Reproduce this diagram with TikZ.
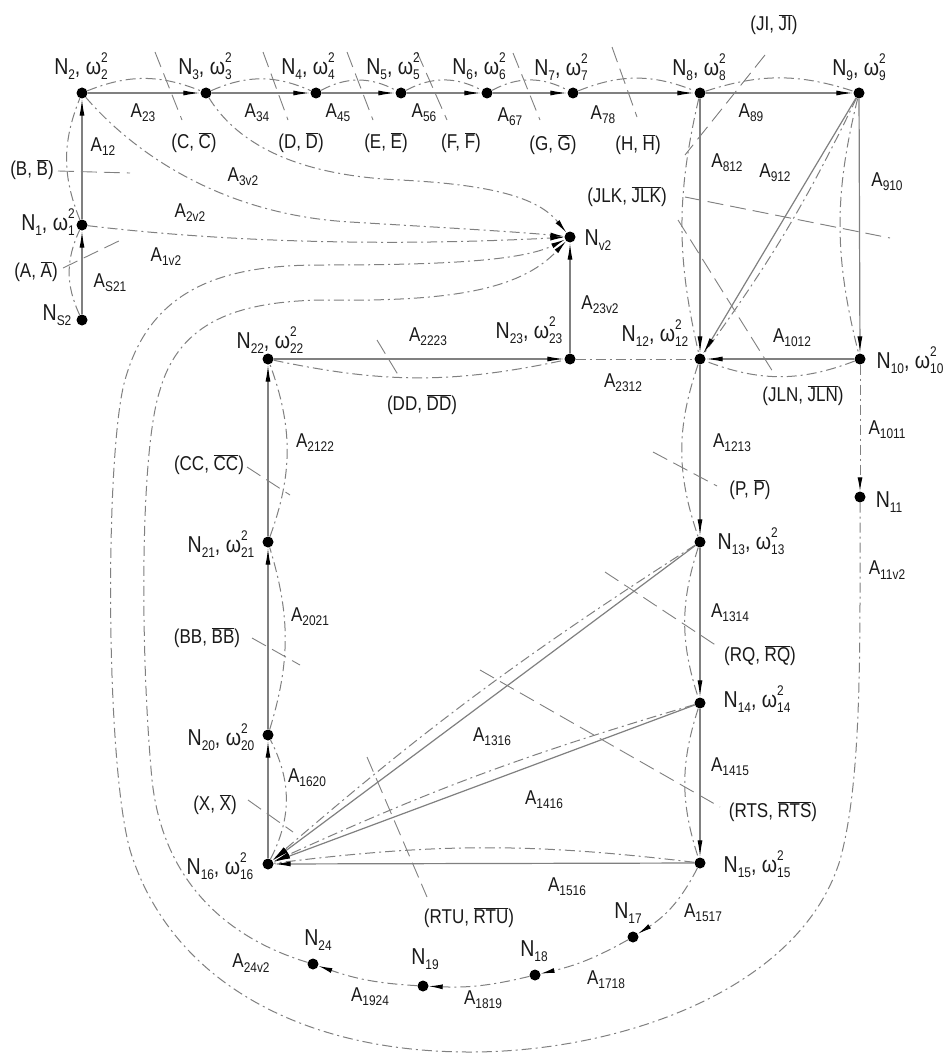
\documentclass[tikz,border=0pt]{standalone}
\usepackage{fontspec}
\setmainfont{Liberation Sans}[FakeStretch=0.85]
\usetikzlibrary{arrows.meta}
\definecolor{ln}{HTML}{808080}
\definecolor{tx}{HTML}{1a1a1a}
\newcommand\sbx[1]{\raisebox{-0.4ex}{\fontsize{14}{14}\selectfont #1}}
\newcommand\om[1]{ω\makebox[0pt][l]{\raisebox{0.95ex}{\fontsize{14}{14}\selectfont 2}}\sbx{#1}}
\newcommand\nw[2]{N\sbx{#1}, \om{#2}}
\newcommand\ob[1]{\ensuremath{\overline{\hbox{#1}}}}
\tikzset{
 dot/.style={circle,fill=black,inner sep=0pt,minimum size=11pt},
 sol/.style={draw=ln,line width=1.2pt},
 arr/.style={-{Latex[length=17pt,width=5pt,black]}},
 sarr/.style={-{Latex[length=14pt,width=5pt,black]}},
 dd/.style={draw=ln,line width=1pt,dash pattern=on 10pt off 4pt on 2pt off 4pt},
 cut/.style={draw=ln,line width=0.9pt,dash pattern=on 16pt off 7pt},
 lab/.style={text=tx,inner sep=0pt,font=\fontsize{20}{24}\selectfont},
 nlab/.style={text=tx,inner sep=0pt,font=\fontsize{23}{26}\selectfont},
}
\begin{document}
\begin{tikzpicture}[x=1pt,y=-1pt]
\useasboundingbox[fill=white] (0,0) rectangle (945,1054);
% nodes
\node[dot] (ns2) at (82,320) {};
\node[dot] (n1) at (82,225) {};
\node[dot] (n2) at (82,93) {};
\node[dot] (n3) at (206,93) {};
\node[dot] (n4) at (316,93) {};
\node[dot] (n5) at (401,93) {};
\node[dot] (n6) at (487,93) {};
\node[dot] (n7) at (573,93) {};
\node[dot] (n8) at (700,93) {};
\node[dot] (n9) at (859,93) {};
\node[dot] (nv2) at (570,237) {};
\node[dot] (n23) at (570,359) {};
\node[dot] (n22) at (268,359) {};
\node[dot] (n12) at (700,359) {};
\node[dot] (n10) at (860,359) {};
\node[dot] (n11) at (860,497) {};
\node[dot] (n21) at (268,542) {};
\node[dot] (n20) at (268,735) {};
\node[dot] (n16) at (268,864) {};
\node[dot] (n13) at (700,542) {};
\node[dot] (n14) at (700,703) {};
\node[dot] (n15) at (700,863) {};
\node[dot] (n17) at (633,937) {};
\node[dot] (n18) at (535,975) {};
\node[dot] (n19) at (423,986) {};
\node[dot] (n24) at (313,964) {};
% cut lines
\draw[cut] (63,268) -- (125,238);
\draw[cut] (58,171) -- (130,173);
\draw[cut] (155,52) -- (182,120);
\draw[cut] (263,52) -- (288,120);
\draw[cut] (347,52) -- (373,120);
\draw[cut] (417,52) -- (447,120);
\draw[cut] (513,53) -- (540,120);
\draw[cut] (612,47) -- (637,117);
\draw[cut] (765,55) -- (685,155);
\draw[cut] (685,197) -- (890,238);
\draw[cut] (678,220) -- (773,372);
\draw[cut] (653,452) -- (717,486);
\draw[cut] (605,572) -- (720,648);
\draw[cut] (480,670) -- (720,807);
\draw[cut] (367,757) -- (427,897);
\draw[cut] (248,800) -- (293,832);
\draw[cut] (252,638) -- (300,665);
\draw[cut] (247,467) -- (290,495);
\draw[cut] (377,340) -- (400,378);
% dash-dot arcs
\draw[dd] (ns2) to[bend left=25] (n1);
\draw[dd] (n1) to[bend left=22] (n2);
\draw[dd] (n2) to[bend left=22] (n3);
\draw[dd] (n3) to[bend left=24] (n4);
\draw[dd] (n4) to[bend left=28] (n5);
\draw[dd] (n5) to[bend left=28] (n6);
\draw[dd] (n6) to[bend left=28] (n7);
\draw[dd] (n7) to[bend left=22] (n8);
\draw[dd] (n8) to[bend left=18] (n9);
\draw[dd] (n9) to[bend right=14] (n10);
\draw[dd] (n8) to[bend right=13] (n12);
\draw[dd] (n9) to[bend left=5] (n12);
\draw[dd] (n10) to[bend left=21] (n12);
\draw[dd] (n12) to[bend right=19] (n13);
\draw[dd] (n13) to[bend right=18] (n14);
\draw[dd] (n14) to[bend right=18] (n15);
\draw[dd] (n22) to[bend right=12] (n23);
\draw[dd] (n21) to[bend right=20] (n22);
\draw[dd] (n20) to[bend right=17] (n21);
\draw[dd] (n16) to[bend right=27] (n20);
\draw[dd] (n15) to[bend right=7] (n16);
\draw[dd,arr] (n13) to[bend right=4] (n16);
\draw[dd,arr] (n14) to[bend right=4] (n16);
\draw[dd] (n23) -- (n12);
% solid edges
\draw[sol,arr] (ns2) -- (n1);
\draw[sol,arr] (n1) -- (n2);
\draw[sol,arr] (n2) -- (n3);
\draw[sol,arr] (n3) -- (n4);
\draw[sol,arr] (n4) -- (n5);
\draw[sol,arr] (n5) -- (n6);
\draw[sol,arr] (n6) -- (n7);
\draw[sol,arr] (n7) -- (n8);
\draw[sol,arr] (n8) -- (n9);
\draw[sol,arr] (n9) -- (n10);
\draw[sol,arr] (n8) -- (n12);
\draw[sol,arr] (n9) -- (n12);
\draw[sol,arr] (n10) -- (n12);
\draw[sol,arr] (n23) -- (nv2);
\draw[sol,arr] (n22) -- (n23);
\draw[sol,arr] (n12) -- (n13);
\draw[sol,arr] (n13) -- (n14);
\draw[sol,arr] (n14) -- (n15);
\draw[sol,arr] (n21) -- (n22);
\draw[sol,arr] (n20) -- (n21);
\draw[sol,arr] (n16) -- (n20);
\draw[sol,arr] (n15) -- (n16);
\draw[sol,arr] (n13) -- (n16);
\draw[sol,arr] (n14) -- (n16);
% bundle to Nv2
\draw[dd,sarr] (n1) .. controls (250,245) and (420,245) .. (nv2);
\draw[dd,sarr] (n2) .. controls (140,160) and (230,215) .. (350,222) .. controls (450,228) and (520,232) .. (nv2);
\draw[dd,sarr] (n3) .. controls (235,140) and (290,175) .. (400,180) .. controls (500,185) and (540,200) .. (nv2);
\draw[dd,sarr] (n11) .. controls (860,650) and (862,780) .. (840,860) .. controls (800,990) and (620,1052) .. (470,1052) .. controls (300,1052) and (170,980) .. (130,850) .. controls (105,760) and (105,450) .. (125,380) .. controls (150,290) and (220,265) .. (320,265) .. controls (430,265) and (520,262) .. (nv2);
\draw[dd,sarr] (n24) .. controls (250,945) and (165,900) .. (152,780) .. controls (140,650) and (140,450) .. (160,390) .. controls (180,320) and (240,302) .. (320,300) .. controls (450,302) and (520,290) .. (nv2);
% chain
\draw[dd,sarr] (n10) -- (n11);
\draw[dd,sarr] (n15) to[bend left=15] (n17);
\draw[dd,sarr] (n17) to[bend left=8] (n18);
\draw[dd,sarr] (n18) to[bend left=8] (n19);
\draw[dd,sarr] (n19) to[bend left=8] (n24);
% node labels
\node[nlab] (l2) at (81,66) {\nw{2}{2}};
\node[nlab] (l3) at (205,66) {\nw{3}{3}};
\node[nlab] (l4) at (308,66) {\nw{4}{4}};
\node[nlab] (l5) at (393,66) {\nw{5}{5}};
\node[nlab] (l6) at (479,66) {\nw{6}{6}};
\node[nlab] (l7) at (561,67) {\nw{7}{7}};
\node[nlab] (l8) at (699,67) {\nw{8}{8}};
\node[nlab] (l9) at (859,67) {\nw{9}{9}};
\node[nlab] (l1) at (48,222) {\nw{1}{1}};
\node[nlab] (ls2) at (57,315) {N\sbx{S2}};
\node[nlab] (lv2) at (598,240) {N\sbx{v2}};
\node[nlab] (l23) at (529,330) {\nw{23}{23}};
\node[nlab] (l22) at (270,340) {\nw{22}{22}};
\node[nlab] (l12) at (655,333) {\nw{12}{12}};
\node[nlab] (l10) at (910,360) {\nw{10}{10}};
\node[nlab] (l11) at (889,502) {N\sbx{11}};
\node[nlab] (l21) at (221,544) {\nw{21}{21}};
\node[nlab] (l20) at (221,737) {\nw{20}{20}};
\node[nlab] (l16) at (220,866) {\nw{16}{16}};
\node[nlab] (l13) at (751,541) {\nw{13}{13}};
\node[nlab] (l14) at (757,699) {\nw{14}{14}};
\node[nlab] (l15) at (757,864) {\nw{15}{15}};
\node[nlab] (l17) at (628,913) {N\sbx{17}};
\node[nlab] (l18) at (534,951) {N\sbx{18}};
\node[nlab] (l19) at (425,959) {N\sbx{19}};
\node[nlab] (l24) at (318,940) {N\sbx{24}};
% edge labels
\node[lab] (a23) at (143,113) {A\sbx{23}};
\node[lab] (a34) at (257,113) {A\sbx{34}};
\node[lab] (a45) at (338,113) {A\sbx{45}};
\node[lab] (a56) at (424,113) {A\sbx{56}};
\node[lab] (a67) at (510,117) {A\sbx{67}};
\node[lab] (a78) at (603,115) {A\sbx{78}};
\node[lab] (a89) at (751,113) {A\sbx{89}};
\node[lab] (a12) at (103,147) {A\sbx{12}};
\node[lab] (as21) at (110,283) {A\sbx{S21}};
\node[lab] (a1v2) at (166,257) {A\sbx{1v2}};
\node[lab] (a2v2) at (190,213) {A\sbx{2v2}};
\node[lab] (a3v2) at (243,177) {A\sbx{3v2}};
\node[lab] (a812) at (727,163) {A\sbx{812}};
\node[lab] (a912) at (775,173) {A\sbx{912}};
\node[lab] (a910) at (887,182) {A\sbx{910}};
\node[lab] (a23v2) at (600,305) {A\sbx{23v2}};
\node[lab] (a1012) at (792,338) {A\sbx{1012}};
\node[lab] (a2312) at (623,383) {A\sbx{2312}};
\node[lab] (a2223) at (428,337) {A\sbx{2223}};
\node[lab] (a2122) at (315,443) {A\sbx{2122}};
\node[lab] (a1213) at (732,443) {A\sbx{1213}};
\node[lab] (a1011) at (887,430) {A\sbx{1011}};
\node[lab] (a11v2) at (887,570) {A\sbx{11v2}};
\node[lab] (a1314) at (730,613) {A\sbx{1314}};
\node[lab] (a2021) at (310,617) {A\sbx{2021}};
\node[lab] (a1415) at (730,767) {A\sbx{1415}};
\node[lab] (a1620) at (307,778) {A\sbx{1620}};
\node[lab] (a1316) at (492,737) {A\sbx{1316}};
\node[lab] (a1416) at (544,800) {A\sbx{1416}};
\node[lab] (a1516) at (567,887) {A\sbx{1516}};
\node[lab] (a1517) at (703,913) {A\sbx{1517}};
\node[lab] (a1718) at (606,980) {A\sbx{1718}};
\node[lab] (a1819) at (483,1000) {A\sbx{1819}};
\node[lab] (a1924) at (370,997) {A\sbx{1924}};
\node[lab] (a24v2) at (251,963) {A\sbx{24v2}};
% cut labels
\node[lab] (cA) at (36,272) {(A, \ob{A})};
\node[lab] (cB) at (32,170) {(B, \ob{B})};
\node[lab] (cC) at (194,143) {(C, \ob{C})};
\node[lab] (cD) at (301,143) {(D, \ob{D})};
\node[lab] (cE) at (386,143) {(E, \ob{E})};
\node[lab] (cF) at (461,143) {(F, \ob{F})};
\node[lab] (cG) at (553,145) {(G, \ob{G})};
\node[lab] (cH) at (638,145) {(H, \ob{H})};
\node[lab] (cJI) at (774,25) {(JI, \ob{JI})};
\node[lab] (cJLK) at (627,197) {(JLK, \ob{JLK})};
\node[lab] (cJLN) at (803,396) {(JLN, \ob{JLN})};
\node[lab] (cP) at (750,490) {(P, \ob{P})};
\node[lab] (cRQ) at (760,656) {(RQ, \ob{RQ})};
\node[lab] (cRTS) at (773,812) {(RTS, \ob{RTS})};
\node[lab] (cRTU) at (469,918) {(RTU, \ob{RTU})};
\node[lab] (cX) at (215,805) {(X, \ob{X})};
\node[lab] (cBB) at (207,638) {(BB, \ob{BB})};
\node[lab] (cCC) at (209,465) {(CC, \ob{CC})};
\node[lab] (cDD) at (422,405) {(DD, \ob{DD})};
\end{tikzpicture}
\end{document}
